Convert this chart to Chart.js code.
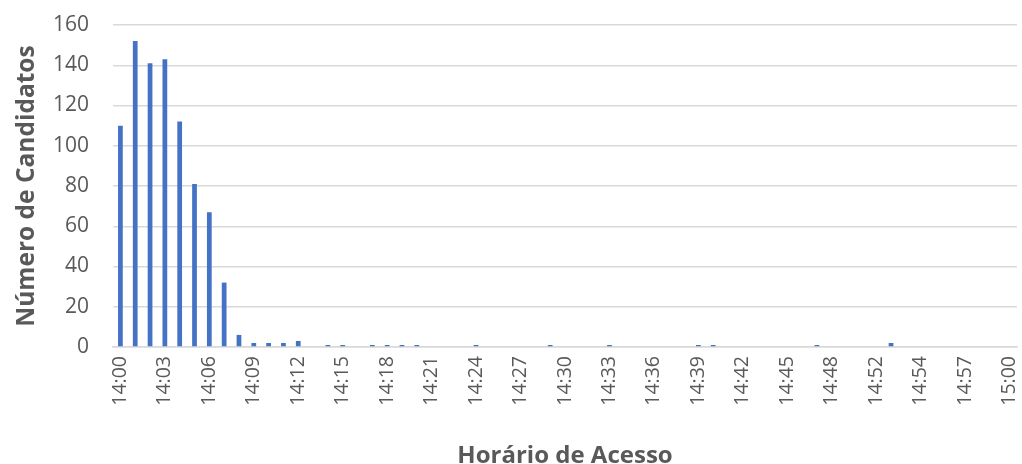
<!DOCTYPE html>
<html>
<head>
<meta charset="utf-8">
<script src="https://cdn.jsdelivr.net/npm/chart.js@4/dist/chart.umd.min.js"></script>
<style>
  html, body { margin: 0; padding: 0; background: #fff; }
  #wrap { width: 1022px; height: 464px; }
</style>
</head>
<body>
<div id="wrap"><canvas id="myChart" width="1022" height="464"></canvas></div>
<script>
// one category per minute, 14:00 .. 15:00
var minutes = [
  "14:00","14:01","14:02","14:03","14:04","14:05","14:06","14:07","14:08","14:09",
  "14:10","14:11","14:12","14:13","14:14","14:15","14:16","14:17","14:18","14:19",
  "14:20","14:21","14:22","14:23","14:24","14:25","14:26","14:27","14:28","14:29",
  "14:30","14:31","14:32","14:33","14:34","14:35","14:36","14:37","14:38","14:39",
  "14:40","14:41","14:42","14:43","14:44","14:45","14:46","14:47","14:48","14:49",
  "14:50","14:51","14:52","14:53","14:54","14:55","14:56","14:57","14:58","14:59",
  "15:00"
];

var candidatos = [
  110, 152, 141, 143, 112, 81, 67, 32, 6, 2,
  2, 2, 3, 0, 1, 1, 0, 1, 1, 1,
  1, 0, 0, 0, 1, 0, 0, 0, 0, 1,
  0, 0, 0, 1, 0, 0, 0, 0, 0, 1,
  1, 0, 0, 0, 0, 0, 0, 1, 0, 0,
  0, 0, 2, 0, 0, 0, 0, 0, 0, 0,
  0
];

// labels shown on the axis, one every 3 minutes (as printed in the original)
var tickLabels = [
  "14:00","14:03","14:06","14:09","14:12","14:15","14:18","14:21","14:24","14:27",
  "14:30","14:33","14:36","14:39","14:42","14:45","14:48","14:52","14:54","14:57",
  "15:00"
];

var yTicks = [0, 20, 40, 60, 80, 100, 120, 140, 160];

var grey = '#595959';
var font = 'Open Sans';

var ctx = document.getElementById('myChart').getContext('2d');
var myChart = new Chart(ctx, {
  type: 'bar',
  data: {
    labels: minutes,
    datasets: [{
      label: 'Número de Candidatos',
      data: candidatos,
      backgroundColor: '#4472C4',
      borderWidth: 0,
      barPercentage: 0.32,
      categoryPercentage: 1.0
    }]
  },
  options: {
    responsive: false,
    animation: false,
    layout: { padding: { left: 0, right: 5, top: 25, bottom: 0 } },
    plugins: {
      legend: { display: false },
      tooltip: { enabled: false }
    },
    scales: {
      x: {
        offset: true,
        grid: { display: false, drawTicks: false },
        border: { color: '#d9d9d9', width: 1.5 },
        ticks: {
          autoSkip: false,
          maxRotation: 90,
          minRotation: 90,
          padding: 9,
          color: grey,
          font: { family: font, size: 19.5 },
          callback: function (value, index) {
            return index % 3 === 0 ? tickLabels[index / 3] : null;
          }
        },
        title: {
          display: true,
          text: 'Horário de Acesso',
          color: grey,
          font: { family: font, size: 24, weight: 'bold' },
          padding: { top: 6, bottom: -7 }
        },
        afterFit: function (scale) {
          scale.height = 117;
          scale.paddingLeft = 0;
          scale.paddingRight = 0;
        }
      },
      y: {
        min: 0,
        max: 160,
        afterBuildTicks: function (scale) {
          scale.ticks = yTicks.map(function (v) { return { value: v }; });
        },
        grid: { color: '#d9d9d9', lineWidth: 1.5, drawTicks: false },
        border: { display: false },
        ticks: {
          padding: 24,
          color: grey,
          font: { family: font, size: 21 }
        },
        title: {
          display: true,
          text: 'Número de Candidatos',
          color: grey,
          font: { family: font, size: 24.5, weight: 'bold' },
          padding: { top: 12, bottom: 0 }
        },
        afterFit: function (scale) {
          scale.width = 113;
          scale.paddingTop = 0;
          scale.paddingBottom = 0;
        }
      }
    }
  }
});
</script>
</body>
</html>
